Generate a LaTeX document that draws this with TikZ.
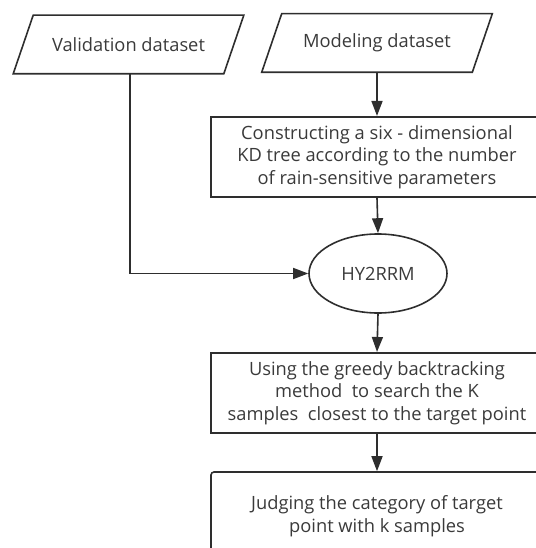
\documentclass[tikz,border=0pt]{standalone}
\usepackage{fontspec}
\setmainfont{Open Sans}
\usetikzlibrary{shapes.geometric,arrows.meta}
\definecolor{linec}{HTML}{2E2E2E}
\definecolor{textc}{HTML}{3A3A3A}
\tikzset{
  base/.style={draw=linec, line width=1.6pt, text=textc, font=\fontsize{18.3}{22.5}\selectfont, align=center, inner sep=0pt},
  iobox/.style={base, draw=none, rectangle, minimum width=229pt, minimum height=57pt},
  para/.style={draw=linec, line width=1.6pt},
  procbox/.style={base, rectangle, minimum width=332pt, minimum height=80.5pt},
  termbox/.style={base, ellipse, minimum width=138pt, minimum height=79pt},
  flow/.style={draw=linec, line width=1.6pt, -{Triangle[length=15pt,width=11pt]}}
}
\begin{document}
\begin{tikzpicture}[x=1pt,y=-1pt]
\useasboundingbox (0,0) rectangle (535,548);
\node[iobox] (val) at (128.5,44.5) {Validation dataset};
\node[iobox] (mod) at (377,43) {Modeling dataset};
\foreach \n in {val,mod}{
  \draw[para] ([xshift=20pt]\n.north west) -- (\n.north east) -- ([xshift=-20pt]\n.south east) -- (\n.south west) -- cycle;
}
\node[procbox] (kd) at (377,157) {Constructing a six - dimensional\\KD tree according to the number\\of rain-sensitive parameters};
\node[termbox] (hy) at (378,273.5) {HY2RRM};
\node[procbox] (greedy) at (377,393) {Using the greedy backtracking\\method\ \ to search the K\\samples\ \ closest to the target point};
\node[procbox, rounded corners=3pt, minimum height=92pt] (judge) at (377,518) {};
\node[base, draw=none] (judgetext) at (377,516) {Judging the category of target\\point with k samples};
\draw[flow] (mod.south) -- (kd.north);
\draw[flow] (kd.south) -- (hy.north);
\draw[flow] ([xshift=1.5pt]val.south) |- (hy.west);
\draw[flow] (hy.south) -- (greedy.north);
\draw[flow] (greedy.south) -- (judge.north);
\end{tikzpicture}
\end{document}
